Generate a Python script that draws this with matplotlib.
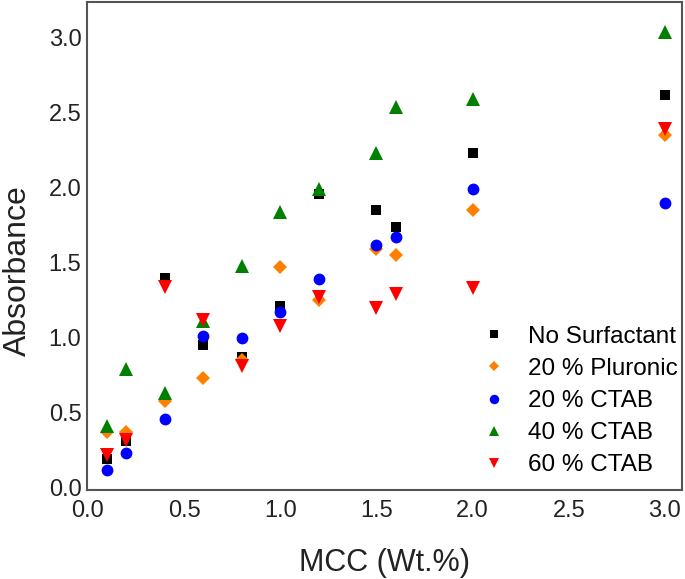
import numpy as np
import matplotlib
matplotlib.use("Agg")
import matplotlib.pyplot as plt

plt.rcParams['font.family'] = ['Liberation Sans', 'DejaVu Sans']

# MCC loading (wt.%)
mcc = [0.1, 0.2, 0.4, 0.6, 0.8, 1.0, 1.2, 1.5, 1.6, 2.0, 3.0]

# Absorbance values per series
no_surf = [0.19, 0.31, 1.40, 0.95, 0.87, 1.21, 1.96, 1.85, 1.74, 2.23, 2.62]
pluronic20 = [0.37, 0.37, 0.58, 0.73, 0.85, 1.47, 1.25, 1.59, 1.55, 1.85, 2.35]
ctab20 = [0.12, 0.23, 0.46, 1.01, 1.00, 1.17, 1.39, 1.62, 1.67, 1.99, 1.90]
ctab40 = [0.41, 0.79, 0.63, 1.11, 1.48, 1.84, 1.99, 2.23, 2.54, 2.59, 3.04]
ctab60 = [0.22, 0.32, 1.34, 1.12, 0.81, 1.08, 1.27, 1.20, 1.29, 1.33, 2.39]

labels = ['No Surfactant', '20 % Pluronic', '20 % CTAB', '40 % CTAB', '60 % CTAB']
series = [no_surf, pluronic20, ctab20, ctab40, ctab60]
colors = ['black', '#ff8000', '#0000ff', '#008000', '#ff0000']
markers = ['s', 'D', 'o', '^', 'v']
msizes = [7, 7, 8.5, 9.5, 9.5]

fig = plt.figure(figsize=(6.85, 5.79), dpi=100)
ax = fig.add_axes([0.127, 0.154, 0.869, 0.843])

for y, lab, c, m, ms in zip(series, labels, colors, markers, msizes):
    ax.plot(mcc, y, linestyle='none', marker=m, color=c, markersize=ms,
            markeredgewidth=0, label=lab)

ax.set_xlim(-0.005, 3.09)
ax.set_ylim(-0.013, 3.24)
ax.set_xticks(np.arange(0, 3.01, 0.5))
ax.set_yticks(np.arange(0, 3.01, 0.5))
ax.xaxis.set_major_formatter(matplotlib.ticker.FormatStrFormatter('%.1f'))
ax.yaxis.set_major_formatter(matplotlib.ticker.FormatStrFormatter('%.1f'))
ax.tick_params(length=0, labelsize=17, colors='#222222')
ax.tick_params(axis='x', pad=7)
ax.tick_params(axis='y', pad=4)

for s in ax.spines.values():
    s.set_color('#555555')
    s.set_linewidth(1.5)

ax.set_xlabel('MCC (Wt.%)', fontsize=22, color='#222222', labelpad=19)
ax.set_ylabel('Absorbance', fontsize=23, color='#222222')
ax.yaxis.set_label_coords(-0.09, 0.45)

ax.legend(loc='lower right', bbox_to_anchor=(1.015, 0.0), frameon=False,
          fontsize=17.5, markerscale=0.8, handletextpad=0.8,
          labelspacing=0.42, borderaxespad=0.35, borderpad=0.2,
          handlelength=1.2)

plt.savefig('out.png', dpi=100)
